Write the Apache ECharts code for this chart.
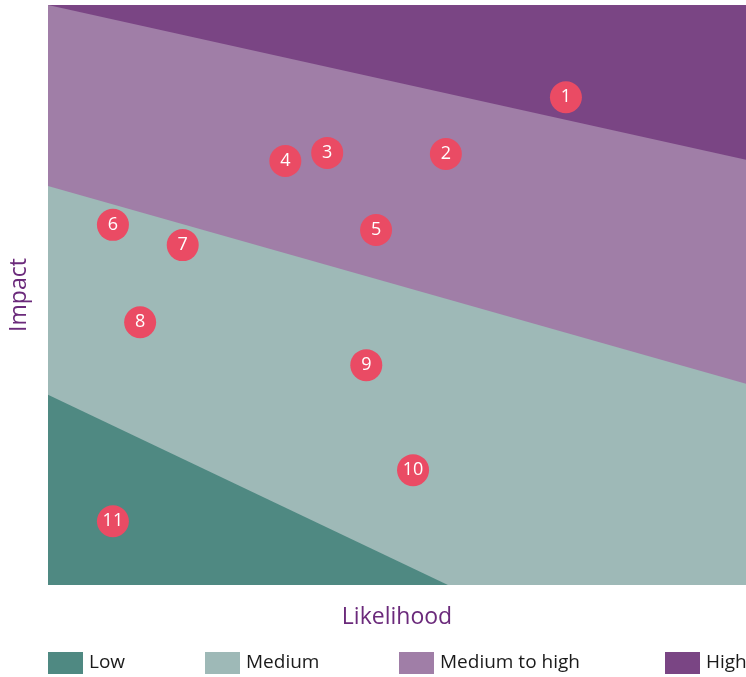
<!DOCTYPE html>
<html>
<head>
<meta charset="utf-8">
<title>Risk matrix</title>
<script src="https://cdn.jsdelivr.net/npm/echarts@6/dist/echarts.min.js"></script>
<style>
  html, body { margin: 0; padding: 0; background: #fff; }
  #chart { width: 746px; height: 677px; }
</style>
</head>
<body>
<div id="chart"></div>
<script>
// bands, bottom to top
const bandNames = ['Low', 'Medium', 'Medium to high', 'High'];
const bandColors = ['#4f8982', '#9eb9b7', '#a07ea7', '#7a4584'];
// upper edge of each band: [likelihood, impact] pairs (0-100 scale)
const lowEdge = [[0, 32.8], [57.3, 0]];
const mediumEdge = [[0, 68.8], [100, 34.7]];
const medHighEdge = [[0, 100], [100, 73.3]];
const highEdge = [[0, 100], [100, 100]];

// risks
const riskLabels = ['1', '2', '3', '4', '5', '6', '7', '8', '9', '10', '11'];
const riskLikelihood = [74.2, 57.0, 40.0, 34.0, 47.0, 9.3, 19.3, 13.2, 45.6, 52.3, 9.3];
const riskImpact = [84.1, 74.3, 74.5, 73.1, 61.2, 62.1, 58.6, 45.3, 37.9, 19.8, 11.0];

const font = '"Open Sans", "Noto Sans", sans-serif';
const edges = [lowEdge, mediumEdge, medHighEdge, highEdge];
const legendLeft = [48, 205, 399, 665];

// draw top band first so the lower ones sit above it
const bandSeries = [3, 2, 1, 0].map(i => ({
  name: bandNames[i],
  type: 'line',
  data: edges[i],
  showSymbol: false,
  symbol: 'none',
  silent: true,
  lineStyle: { width: 0 },
  itemStyle: { color: bandColors[i] },
  areaStyle: { color: bandColors[i], opacity: 1 },
  z: 1,
}));

// one legend per band so each sits where the original puts it
const legends = bandNames.map((n, i) => ({
  data: [n],
  icon: 'rect',
  left: legendLeft[i],
  top: 652,
  padding: 0,
  itemWidth: 35,
  itemHeight: 22,
  itemGap: 6,
  textStyle: { fontSize: 19, color: '#1a1a1a', fontFamily: font, padding: [2, 0, 0, 1] },
  selectedMode: false,
}));

const option = {
  animation: false,
  grid: { left: 48, right: 0, top: 5, bottom: 92, containLabel: false },
  legend: legends,
  xAxis: {
    type: 'value',
    min: 0,
    max: 100,
    name: 'Likelihood',
    nameLocation: 'middle',
    nameGap: 21,
    nameTextStyle: { fontSize: 23, color: '#6b2a7b', fontFamily: font },
    axisLine: { show: false },
    axisTick: { show: false },
    axisLabel: { show: false },
    splitLine: { show: false },
  },
  yAxis: {
    type: 'value',
    min: 0,
    max: 100,
    name: 'Impact',
    nameLocation: 'middle',
    nameGap: 17,
    nameTextStyle: { fontSize: 23, color: '#6b2a7b', fontFamily: font },
    axisLine: { show: false },
    axisTick: { show: false },
    axisLabel: { show: false },
    splitLine: { show: false },
  },
  series: bandSeries.concat([
    {
      name: 'Risks',
      type: 'scatter',
      symbolSize: 32,
      itemStyle: { color: '#ea4b64', opacity: 1 },
      label: {
        show: true,
        position: 'inside',
        formatter: p => p.name,
        color: '#fff',
        fontSize: 18,
        fontFamily: font,
      },
      data: riskLabels.map((n, i) => ({ name: n, value: [riskLikelihood[i], riskImpact[i]] })),
      z: 5,
    },
  ]),
};

const chart = echarts.init(document.getElementById('chart'));
chart.setOption(option);
</script>
</body>
</html>
